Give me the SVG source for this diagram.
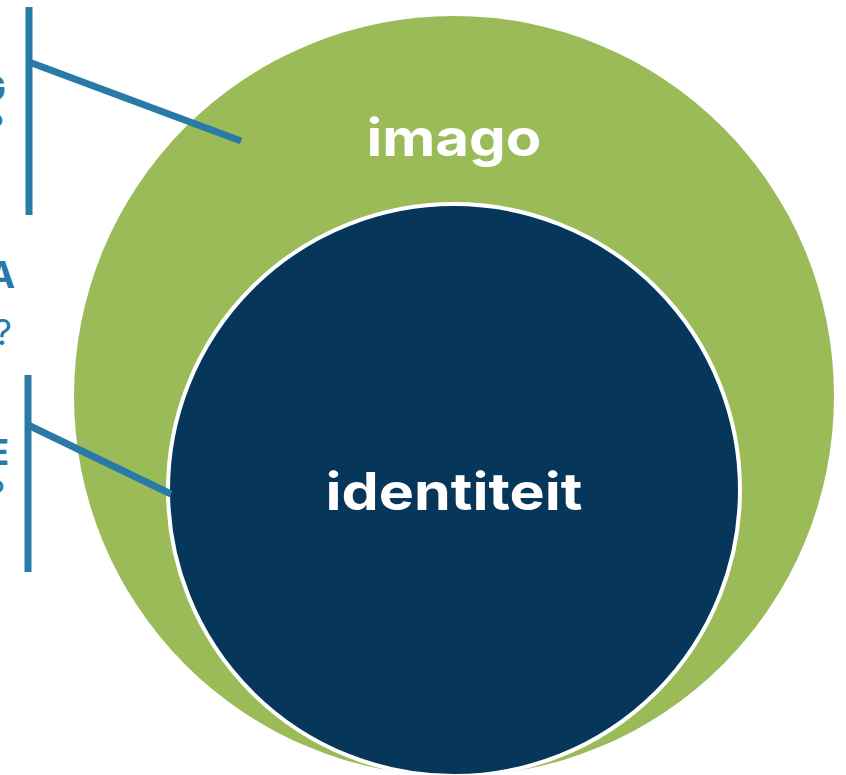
<svg xmlns="http://www.w3.org/2000/svg" width="846" height="775" viewBox="0 0 846 775">
<style>
.lbl{font-family:"Inter","Liberation Sans",sans-serif;font-weight:700;fill:#ffffff;text-anchor:middle}
.side{font-family:"Inter","Liberation Sans",sans-serif;fill:#2A7AA8;text-anchor:end}
.conn{stroke:#2A7AA8;stroke-width:7;fill:none}
</style>
<rect width="846" height="775" fill="#ffffff"/>
<g id="imago">
<circle cx="454" cy="396" r="380" fill="#9BBB59"/>
<text class="lbl" x="454" y="156" font-size="52" textLength="175" lengthAdjust="spacingAndGlyphs">imago</text>
</g>
<g id="identiteit">
<circle cx="454" cy="490" r="286" fill="#063659" stroke="#ffffff" stroke-width="4"/>
<text class="lbl" x="454" y="510" font-size="52" textLength="257" lengthAdjust="spacingAndGlyphs">identiteit</text>
</g>
<g id="side-labels">
<text class="side" x="6" y="101" font-size="36" font-weight="700">G</text>
<text class="side" x="4" y="139" font-size="34">?</text>
<text class="side" x="15" y="288" font-size="37" font-weight="700">A</text>
<text class="side" x="12" y="345" font-size="36">?</text>
<text class="side" x="9" y="465" font-size="36" font-weight="700">E</text>
<text class="side" x="5" y="505" font-size="34">?</text>
</g>
<g id="connectors">
<line class="conn" x1="29" y1="7" x2="29" y2="215"/>
<line class="conn" x1="29" y1="62" x2="241" y2="141"/>
<line class="conn" x1="28" y1="375" x2="28" y2="572"/>
<line class="conn" x1="28" y1="425" x2="171" y2="494"/>
</g>
</svg>
